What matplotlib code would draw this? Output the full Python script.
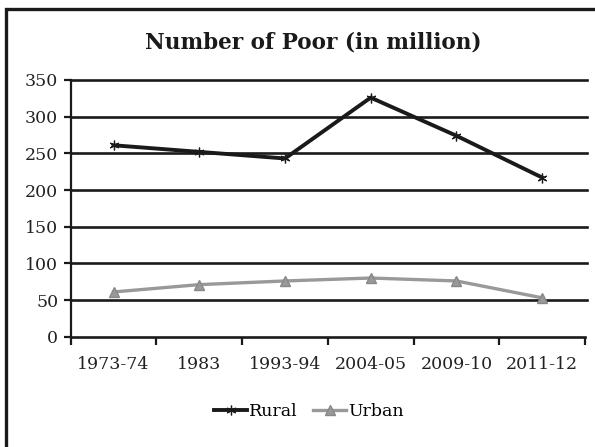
import matplotlib
matplotlib.use("Agg")
import matplotlib.pyplot as plt
from matplotlib.patches import Rectangle
from matplotlib.lines import Line2D

categories = ["1973-74", "1983", "1993-94", "2004-05", "2009-10", "2011-12"]
rural = [261, 252, 243, 326, 274, 217]
urban = [61, 71, 76, 80, 76, 53]
yticks = [0, 50, 100, 150, 200, 250, 300, 350]
title = "Number of Poor (in million)"

W, H = 595, 447
fig = plt.figure(figsize=(W / 100, H / 100), dpi=100)
ax = fig.add_axes([70.7 / W, 1 - 336.7 / H, (585 - 70.7) / W, (336.7 - 80) / H])

x = list(range(len(categories)))
ax.plot(x, rural, color="#1a1a1a", lw=2.8, marker=(6, 2, 0), ms=7,
        mec="#1a1a1a", mew=0.9, zorder=4, label="Rural", clip_on=False)
ax.plot(x, urban, color="#999999", lw=2.4, marker="^", ms=7.5,
        mfc="#999999", mec="#888888", zorder=4, label="Urban", clip_on=False)

ax.set_ylim(0, 350)
ax.set_xlim(-0.5, len(categories) - 0.5)
ax.set_yticks(yticks)
ax.set_yticklabels([str(v) for v in yticks], fontfamily="DejaVu Serif", fontsize=12.5, color="#222222")
ax.set_xticks(x)
ax.set_xticklabels(categories, fontfamily="DejaVu Serif", fontsize=12.5, color="#222222")
ax.tick_params(axis="x", which="major", length=0, pad=14)
ax.set_xticks([i - 0.5 for i in range(len(categories) + 1)], minor=True)
ax.tick_params(axis="x", which="minor", length=6, width=1.6, direction="out", color="#1a1a1a")
ax.tick_params(axis="y", length=5, width=1.6, direction="out", color="#1a1a1a", pad=4)

for v in yticks[1:]:
    ax.axhline(v, color="#1a1a1a", lw=1.9, zorder=2, xmin=0, xmax=1.004, clip_on=False)

for s in ["top", "right"]:
    ax.spines[s].set_visible(False)
ax.spines["left"].set_color("#1a1a1a")
ax.spines["left"].set_linewidth(1.6)
ax.spines["bottom"].set_color("#1a1a1a")
ax.spines["bottom"].set_linewidth(1.9)

fig.text(313 / W, 1 - 42 / H, title, ha="center", va="center",
         fontfamily="DejaVu Serif", fontweight="bold", fontsize=15.5, color="#1a1a1a")

handles = [
    Line2D([], [], color="#1a1a1a", lw=2.8, marker=(6, 2, 0), ms=7, mew=0.9),
    Line2D([], [], color="#999999", lw=2.4, marker="^", ms=7.5, mfc="#999999", mec="#888888"),
]
fig.legend(handles, ["Rural", "Urban"], loc="center", bbox_to_anchor=(309 / W, 1 - 412 / H),
           ncol=2, frameon=False, prop={"family": "DejaVu Serif", "size": 12.5},
           handlelength=1.9, handletextpad=0.1, columnspacing=0.9)

fig.patches.append(Rectangle((6 / W, -0.05), 1.1, 1 - 8.5 / H + 0.05, transform=fig.transFigure,
                             fill=False, lw=2.4, ec="#1a1a1a"))

fig.savefig("out.png", dpi=100)
